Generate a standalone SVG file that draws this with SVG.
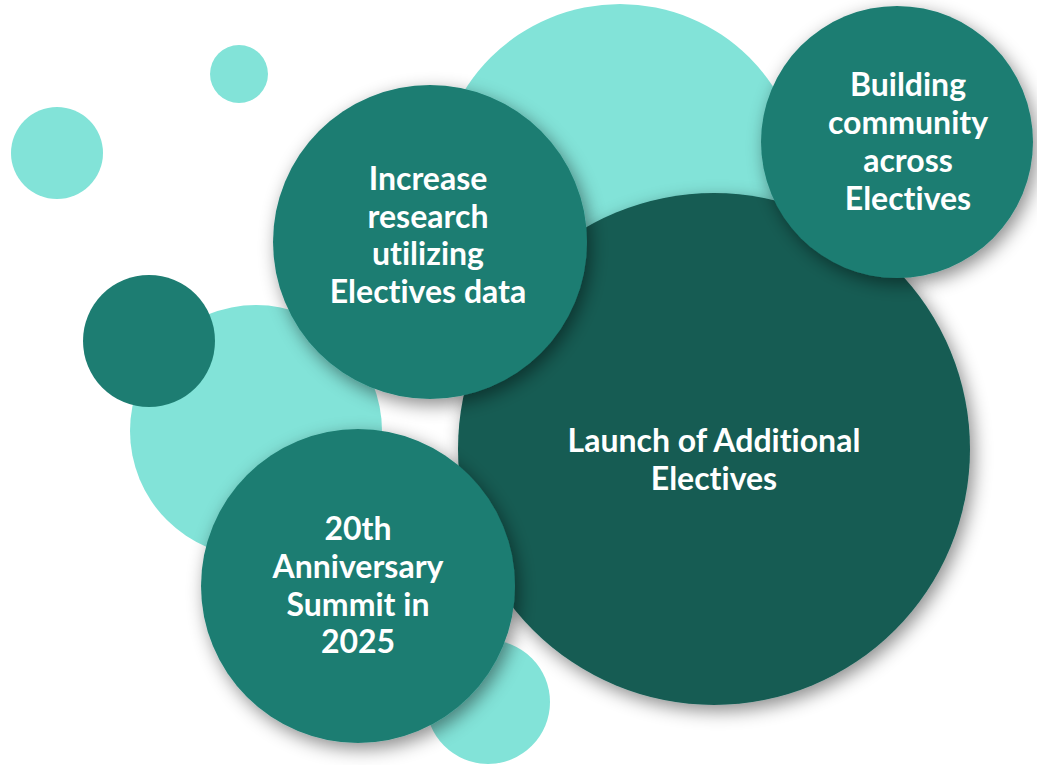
<svg xmlns="http://www.w3.org/2000/svg" width="1037" height="765" viewBox="0 0 1037 765">
<defs>
<filter id="sh" x="-20%" y="-20%" width="140%" height="140%">
<feDropShadow dx="4" dy="6" stdDeviation="9" flood-color="#000" flood-opacity="0.45"/>
</filter>
<style>
.light{fill:#82E3D8}
.mid{fill:#1D7D72}
.dark{fill:#155B53}
.lbl{font-family:Lato,"Liberation Sans",sans-serif;font-weight:700;font-size:32px;fill:#fff;text-anchor:middle;font-variant-ligatures:none}
</style>
</defs>
<rect width="1037" height="765" fill="#fff"/>
<g id="decor">
<circle class="light" cx="239" cy="74" r="29"/>
<circle class="light" cx="57" cy="153" r="46"/>
<circle class="light" cx="620" cy="187" r="183"/>
<circle class="light" cx="256" cy="431" r="126"/>
<circle class="mid" cx="149" cy="341" r="66"/>
<circle class="light" cx="488" cy="702" r="62"/>
</g>
<g id="connectors"></g>
<g id="launch">
<circle class="dark" cx="714" cy="449" r="256" filter="url(#sh)"/>
<text class="lbl"><tspan x="714" y="452">Launch of Additional</tspan><tspan x="714" y="490">Electives</tspan></text>
</g>
<g id="building">
<circle class="mid" cx="897" cy="142" r="136" filter="url(#sh)"/>
<text class="lbl"><tspan x="908" y="96">Building</tspan><tspan x="908" y="134">community</tspan><tspan x="908" y="172">across</tspan><tspan x="908" y="210">Electives</tspan></text>
</g>
<g id="research">
<circle class="mid" cx="430" cy="242" r="157" filter="url(#sh)"/>
<text class="lbl"><tspan x="428" y="190">Increase</tspan><tspan x="428" y="228">research</tspan><tspan x="428" y="265">utilizing</tspan><tspan x="428" y="303">Electives data</tspan></text>
</g>
<g id="summit">
<circle class="mid" cx="358" cy="586" r="157" filter="url(#sh)"/>
<text class="lbl"><tspan x="358" y="540">20th</tspan><tspan x="358" y="578">Anniversary</tspan><tspan x="358" y="616">Summit in</tspan><tspan x="358" y="653">2025</tspan></text>
</g>
</svg>
